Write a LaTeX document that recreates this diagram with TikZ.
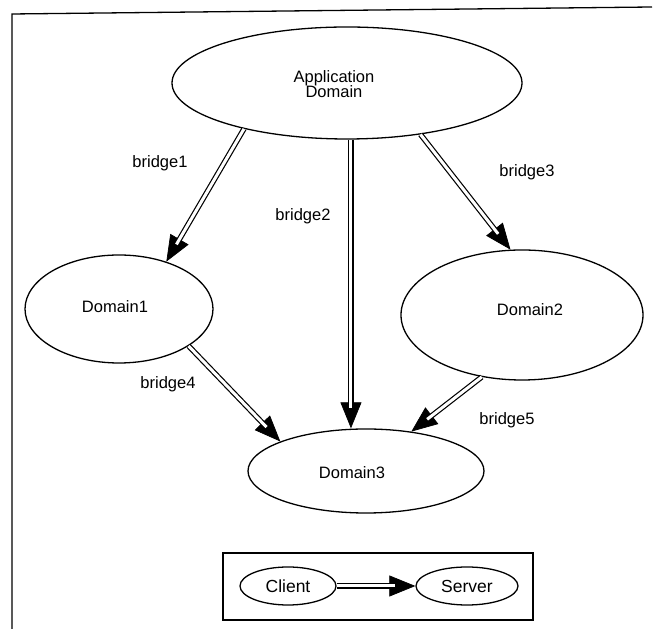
\documentclass[tikz,border=0pt]{standalone}
\usepackage{fontspec}
\setmainfont{Liberation Sans}
\usetikzlibrary{shapes.geometric,arrows.meta}

% a bridge: a hollow (double) shaft ending in a solid triangular head
\newcommand\bridgearrow[3][]{%
  \draw[tipline,#1] #2 -- #3;
  \draw[shaft,#1] #2 -- #3;}

\begin{document}
\begin{tikzpicture}[x=1pt,y=1pt,
  dom/.style={ellipse, draw, line width=1.3pt, inner sep=0pt},
  txt/.style={font=\fontsize{16.5}{15.5}\selectfont, align=center},
  lbl/.style={font=\fontsize{16.5}{18}\selectfont},
  keytxt/.style={font=\fontsize{17.5}{19}\selectfont},
  tipline/.style={line width=0.7pt, -{Triangle[length=26pt,width=21pt]}},
  shaft/.style={double=white, double distance=3pt, line width=1.2pt, shorten >=20pt},
  small/.style={tipline/.style={line width=0.7pt, -{Triangle[length=24pt,width=19pt]}},
                shaft/.style={double=white, double distance=2.8pt, line width=1.2pt, shorten >=18pt}},
  frame/.style={line width=1.3pt}]

\useasboundingbox (0,0) rectangle (657,629);
\fill[white] (0,0) rectangle (657,629);

% outer frame (top and left sides)
\draw[frame] (652,622) -- (12,615) -- (12,-2);

% domains
\node[dom, minimum width=350pt, minimum height=112pt] (app) at (347,546) {};
\node[txt] (appt) at ([xshift=-13pt,yshift=-1pt]app.center) {Application\\Domain};

\node[dom, minimum width=188pt, minimum height=108pt] (d1) at (119,320) {};
\node[txt] (d1t) at ([xshift=-4pt,yshift=2pt]d1.center) {Domain1};

\node[dom, minimum width=242pt, minimum height=130pt] (d2) at (522,314) {};
\node[txt] (d2t) at ([xshift=8pt,yshift=5pt]d2.center) {Domain2};

\node[dom, minimum width=236pt, minimum height=84pt] (d3) at (366,158) {};
\node[txt] (d3t) at ([xshift=-14pt,yshift=-2pt]d3.center) {Domain3};

% bridges
\bridgearrow{(app.274)}{(app.274 |- d3.north)}
\bridgearrow{(app.204)}{(d1.45)}
\bridgearrow{(app.325.6)}{(d2.100)}
\bridgearrow{(d1.332)}{(d3.161)}
\bridgearrow{(d2.237.8)}{(d3.41)}

% bridge labels
\node[lbl] (l1) at (160,466) {bridge1};
\node[lbl] (l2) at (303,413) {bridge2};
\node[lbl] (l3) at (527,457) {bridge3};
\node[lbl] (l4) at (168,245) {bridge4};
\node[lbl] (l5) at (507,209) {bridge5};

% key
\node[draw, line width=1.3pt, minimum width=310pt, minimum height=67pt, inner sep=0pt] (key) at (378,42.5) {};
\node[dom, keytxt, minimum width=96pt, minimum height=38pt] (client) at (288,43) {Client};
\node[dom, keytxt, minimum width=102pt, minimum height=38pt] (server) at (467,43) {Server};
\bridgearrow[small]{(client.east)}{(server.west)}

\end{tikzpicture}
\end{document}
